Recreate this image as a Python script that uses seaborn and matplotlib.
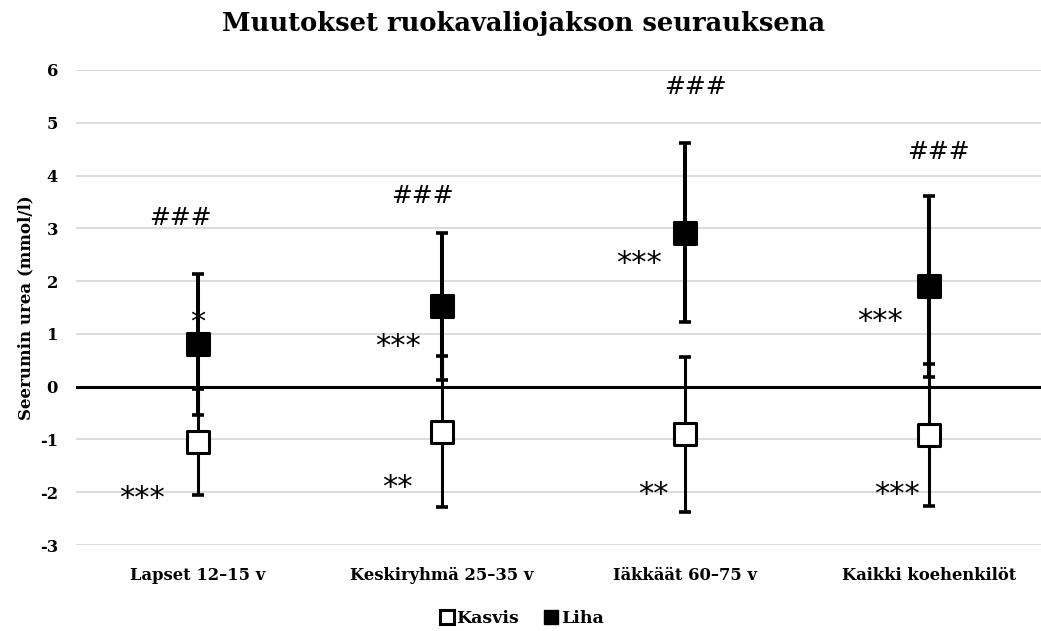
import numpy as np
import pandas as pd
import matplotlib
matplotlib.use("Agg")
import matplotlib.pyplot as plt
import seaborn as sns
from matplotlib.lines import Line2D

# ---------------- data ----------------
categories = ["Lapset 12–15 v", "Keskiryhmä 25–35 v", "Iäkkäät 60–75 v", "Kaikki koehenkilöt"]
series = ["Kasvis", "Liha"]
kasvis_mean = [-1.05, -0.85, -0.90, -0.92]
kasvis_err = [1.00, 1.43, 1.47, 1.35]
liha_mean = [0.80, 1.52, 2.92, 1.90]
liha_err = [1.34, 1.40, 1.70, 1.71]
y_ticks = [-3, -2, -1, 0, 1, 2, 3, 4, 5, 6]

# significance annotations: (text, category index, x offset, y value)
annotations = [
    ("###", 0, -0.07, 3.2), ("*", 0, 0.0, 1.22), ("***", 0, -0.23, -2.12),
    ("###", 1, -0.08, 3.62), ("***", 1, -0.18, 0.76), ("**", 1, -0.18, -1.92),
    ("###", 2, 0.04, 5.68), ("***", 2, -0.19, 2.33), ("**", 2, -0.13, -2.04),
    ("###", 3, 0.04, 4.45), ("***", 3, -0.20, 1.23), ("***", 3, -0.13, -2.04),
]

title = "Muutokset ruokavaliojakson seurauksena"
ylabel = "Seerumin urea (mmol/l)"

df = pd.DataFrame({
    "kategoria": categories * 2,
    "ryhma": ["Kasvis"] * 4 + ["Liha"] * 4,
    "muutos": kasvis_mean + liha_mean,
    "virhe": kasvis_err + liha_err,
})
df["x"] = df["kategoria"].map({c: i for i, c in enumerate(categories)})

sns.set_theme(style="white")
plt.rcParams.update({"text.color": "black", "axes.labelcolor": "black",
                     "xtick.color": "black", "ytick.color": "black"})
serif = ["DejaVu Serif"]

fig = plt.figure(figsize=(10.41, 6.31), dpi=100)
ax = fig.add_axes([76 / 1041, 86 / 631, 975 / 1041, 475 / 631])

# gridlines
for t in y_ticks:
    if t != 0:
        ax.axhline(t, color="#d9d9d9", lw=1.3, zorder=0)
ax.axhline(0, color="black", lw=2.2, zorder=1)

# error bars
styles = {"Kasvis": dict(lw=2.2, zorder=2), "Liha": dict(lw=2.9, zorder=3)}
for name in series:
    sub = df[df["ryhma"] == name]
    ax.errorbar(sub["x"], sub["muutos"], yerr=sub["virhe"], fmt="none",
                ecolor="black", elinewidth=styles[name]["lw"], capsize=4.5,
                capthick=2.6, zorder=styles[name]["zorder"])

# markers
sns.scatterplot(data=df, x="x", y="muutos", hue="ryhma", hue_order=series,
                palette={"Kasvis": "white", "Liha": "black"}, marker="s",
                s=250, edgecolor="black", linewidth=2.2, legend=False,
                ax=ax, zorder=5)

# annotations
for txt, ci, dx, yv in annotations:
    size = 18 if txt.startswith("#") else 22
    ax.text(ci + dx, yv, txt, ha="center", va="center", fontsize=size,
            family="DejaVu Sans", color="black", zorder=6)

ax.set_xlim(-0.5, 3.5)
ax.set_ylim(-3, 6)
ax.set_xticks(range(len(categories)))
ax.set_xticklabels(categories, family=serif, fontweight="bold", fontsize=11.8)
ax.set_yticks(y_ticks)
ax.set_yticklabels([str(t) for t in y_ticks], family=serif, fontweight="bold", fontsize=11.8)
ax.tick_params(axis="x", length=0, pad=16)
ax.tick_params(axis="y", length=0, pad=13)
ax.set_xlabel("")
ax.set_ylabel(ylabel, family=serif, fontweight="bold", fontsize=12, labelpad=4)
for s in ax.spines.values():
    s.set_visible(False)

fig.text(0.503, 0.963, title, ha="center", va="center", family=serif,
         fontweight="bold", fontsize=18.5, color="black")

handles = [
    Line2D([], [], marker="s", ls="none", markerfacecolor="white", markeredgecolor="black",
           markeredgewidth=2.2, markersize=10.5),
    Line2D([], [], marker="s", ls="none", markerfacecolor="black", markeredgecolor="black",
           markersize=10.5),
]
fig.legend(handles, series, loc="center", bbox_to_anchor=(0.5, 0.02), ncol=2,
           frameon=False, handletextpad=0.0, columnspacing=1.3, handlelength=1.1,
           prop={"family": serif, "weight": "bold", "size": 12.5})

fig.savefig("out.png", dpi=100)
